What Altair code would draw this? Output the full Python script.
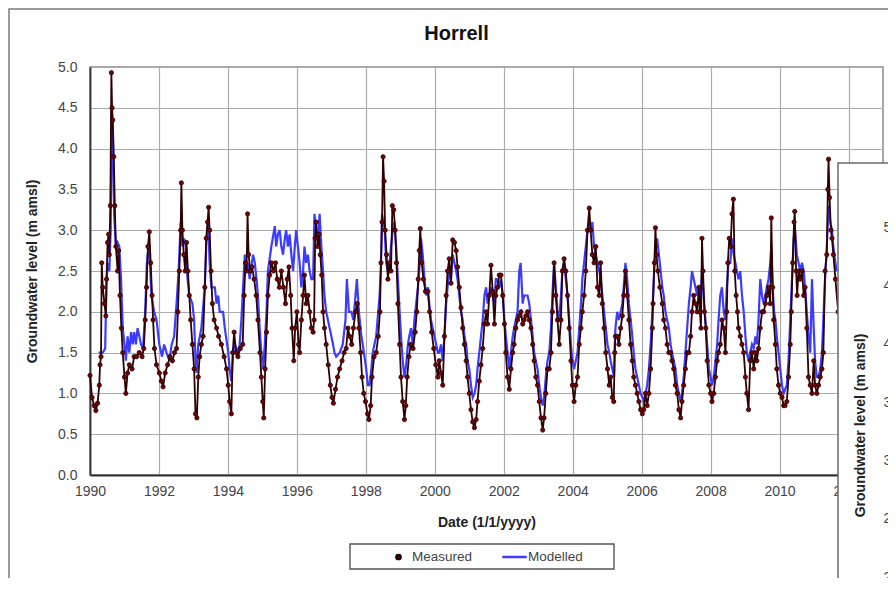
import altair as alt
import pandas as pd

FONT = "Liberation Sans"

series_names = ["Measured", "Modelled"]
x_ticks = [1990, 1992, 1994, 1996, 1998, 2000, 2002, 2004, 2006, 2008, 2010, 2012]
y_ticks = [0.0, 0.5, 1.0, 1.5, 2.0, 2.5, 3.0, 3.5, 4.0, 4.5, 5.0]
inset_ticks = [2.0, 2.5, 3.0, 3.5, 4.0, 4.5, 5.0]

# (decimal year, groundwater level m amsl)
measured = [
    (1990.00, 1.22), (1990.06, 0.95), (1990.12, 0.85), (1990.17, 0.79), (1990.22, 0.88), (1990.27, 1.10),
    (1990.29, 1.35), (1990.32, 1.45), (1990.34, 2.60), (1990.37, 2.30), (1990.42, 2.10), (1990.46, 1.95),
    (1990.48, 2.40), (1990.51, 2.85), (1990.54, 2.95), (1990.56, 2.70), (1990.59, 3.30), (1990.62, 4.93),
    (1990.64, 4.50), (1990.66, 4.35), (1990.69, 3.90), (1990.72, 3.30), (1990.75, 2.80), (1990.80, 2.50),
    (1990.83, 2.75), (1990.87, 2.20), (1990.91, 1.80), (1990.95, 1.50), (1991.00, 1.20), (1991.04, 1.00),
    (1991.09, 1.25), (1991.14, 1.35), (1991.22, 1.30), (1991.28, 1.45), (1991.35, 1.45), (1991.43, 1.50),
    (1991.51, 1.45), (1991.56, 1.55), (1991.60, 1.90), (1991.64, 2.30), (1991.68, 2.80), (1991.72, 2.98),
    (1991.76, 2.60), (1991.80, 2.20), (1991.83, 1.90), (1991.87, 1.55), (1991.93, 1.35), (1992.01, 1.25),
    (1992.07, 1.15), (1992.12, 1.08), (1992.18, 1.25), (1992.25, 1.35), (1992.32, 1.45), (1992.39, 1.40),
    (1992.45, 1.50), (1992.51, 1.55), (1992.55, 2.00), (1992.59, 2.50), (1992.63, 3.00), (1992.65, 3.58),
    (1992.68, 3.00), (1992.72, 2.70), (1992.76, 2.50), (1992.80, 2.85), (1992.84, 2.50), (1992.88, 2.20),
    (1992.92, 1.90), (1992.97, 1.60), (1993.02, 1.30), (1993.06, 0.75), (1993.10, 0.70), (1993.14, 1.20),
    (1993.18, 1.45), (1993.23, 1.60), (1993.28, 1.70), (1993.33, 2.30), (1993.37, 2.90), (1993.41, 3.10),
    (1993.44, 3.28), (1993.47, 3.00), (1993.51, 2.50), (1993.55, 2.10), (1993.60, 1.90), (1993.67, 1.80),
    (1993.73, 1.70), (1993.81, 1.60), (1993.89, 1.45), (1993.96, 1.30), (1994.01, 1.10), (1994.05, 0.90),
    (1994.10, 0.75), (1994.14, 1.50), (1994.18, 1.75), (1994.24, 1.50), (1994.29, 1.45), (1994.36, 1.55),
    (1994.43, 1.60), (1994.47, 2.20), (1994.51, 2.60), (1994.54, 2.50), (1994.57, 3.20), (1994.60, 2.70),
    (1994.65, 2.50), (1994.70, 2.55), (1994.76, 2.40), (1994.82, 2.20), (1994.87, 1.90), (1994.93, 1.50),
    (1994.97, 1.20), (1995.01, 0.90), (1995.04, 0.70), (1995.08, 1.30), (1995.12, 1.75), (1995.16, 2.20),
    (1995.21, 2.45), (1995.26, 2.60), (1995.32, 2.50), (1995.38, 2.60), (1995.43, 2.40), (1995.49, 2.30),
    (1995.55, 2.50), (1995.61, 2.30), (1995.67, 2.10), (1995.72, 2.40), (1995.77, 2.55), (1995.82, 2.20),
    (1995.86, 1.80), (1995.91, 1.40), (1995.95, 1.80), (1996.00, 2.00), (1996.05, 1.60), (1996.08, 1.50),
    (1996.13, 1.90), (1996.18, 2.20), (1996.22, 2.45), (1996.27, 2.10), (1996.32, 2.20), (1996.37, 2.00),
    (1996.42, 1.80), (1996.47, 1.75), (1996.50, 1.90), (1996.53, 2.90), (1996.56, 3.10), (1996.60, 2.80),
    (1996.64, 2.95), (1996.68, 2.70), (1996.72, 2.45), (1996.76, 2.00), (1996.80, 1.80), (1996.85, 1.60),
    (1996.91, 1.35), (1996.97, 1.10), (1997.02, 0.95), (1997.06, 0.88), (1997.12, 1.05), (1997.18, 1.20),
    (1997.24, 1.30), (1997.31, 1.40), (1997.37, 1.50), (1997.43, 1.55), (1997.48, 1.80), (1997.53, 1.70),
    (1997.59, 1.60), (1997.64, 1.80), (1997.70, 2.00), (1997.75, 2.10), (1997.80, 1.80), (1997.85, 1.50),
    (1997.89, 1.20), (1997.94, 1.00), (1997.99, 0.90), (1998.05, 0.75), (1998.09, 0.68), (1998.14, 0.85),
    (1998.18, 1.20), (1998.24, 1.45), (1998.30, 1.50), (1998.36, 1.70), (1998.41, 2.00), (1998.44, 2.60),
    (1998.47, 3.10), (1998.50, 3.90), (1998.53, 3.60), (1998.56, 3.00), (1998.60, 2.70), (1998.64, 2.40),
    (1998.69, 2.60), (1998.73, 2.50), (1998.77, 3.30), (1998.81, 3.25), (1998.85, 3.00), (1998.89, 2.60),
    (1998.93, 2.10), (1998.98, 1.60), (1999.02, 1.20), (1999.07, 0.90), (1999.12, 0.68), (1999.16, 0.85),
    (1999.20, 1.20), (1999.25, 1.45), (1999.30, 1.60), (1999.37, 1.55), (1999.43, 1.75), (1999.48, 2.00),
    (1999.52, 2.40), (1999.55, 2.75), (1999.58, 3.02), (1999.62, 2.60), (1999.67, 2.40), (1999.73, 2.25),
    (1999.80, 2.25), (1999.85, 2.00), (1999.91, 1.75), (1999.97, 1.55), (2000.03, 1.35), (2000.09, 1.20),
    (2000.13, 1.40), (2000.18, 1.25), (2000.23, 1.10), (2000.28, 1.70), (2000.33, 2.20), (2000.37, 2.50),
    (2000.42, 2.65), (2000.47, 2.35), (2000.52, 2.88), (2000.57, 2.85), (2000.62, 2.75), (2000.66, 2.55),
    (2000.71, 2.30), (2000.76, 2.05), (2000.81, 1.80), (2000.86, 1.60), (2000.91, 1.40), (2000.95, 1.20),
    (2001.00, 1.00), (2001.05, 0.80), (2001.10, 0.65), (2001.15, 0.58), (2001.20, 0.68), (2001.24, 0.90),
    (2001.29, 1.15), (2001.34, 1.35), (2001.39, 1.55), (2001.44, 1.85), (2001.49, 2.00), (2001.53, 1.85),
    (2001.58, 2.20), (2001.63, 2.57), (2001.68, 2.25), (2001.73, 1.85), (2001.77, 2.20), (2001.82, 2.30),
    (2001.87, 2.45), (2001.92, 2.45), (2001.97, 2.20), (2002.02, 1.85), (2002.06, 1.50), (2002.11, 1.20),
    (2002.16, 1.05), (2002.21, 1.30), (2002.26, 1.50), (2002.30, 1.60), (2002.35, 1.80), (2002.40, 1.90),
    (2002.45, 1.95), (2002.50, 2.00), (2002.55, 1.85), (2002.59, 1.90), (2002.64, 1.95), (2002.69, 2.00),
    (2002.74, 1.90), (2002.79, 1.80), (2002.84, 1.60), (2002.88, 1.40), (2002.93, 1.20), (2002.98, 1.10),
    (2003.03, 0.90), (2003.08, 0.70), (2003.13, 0.55), (2003.17, 0.70), (2003.22, 1.00), (2003.27, 1.30),
    (2003.32, 1.30), (2003.37, 1.50), (2003.41, 2.00), (2003.46, 2.60), (2003.51, 2.20), (2003.56, 1.90),
    (2003.61, 1.60), (2003.66, 1.90), (2003.70, 2.50), (2003.75, 2.65), (2003.80, 2.50), (2003.85, 2.20),
    (2003.90, 1.80), (2003.95, 1.40), (2003.99, 1.10), (2004.04, 0.90), (2004.09, 1.10), (2004.14, 1.20),
    (2004.19, 1.60), (2004.24, 1.80), (2004.28, 2.00), (2004.33, 2.20), (2004.38, 2.50), (2004.43, 3.00),
    (2004.48, 3.27), (2004.52, 3.00), (2004.57, 2.70), (2004.62, 2.60), (2004.67, 2.80), (2004.72, 2.30),
    (2004.77, 2.20), (2004.81, 2.60), (2004.86, 2.10), (2004.91, 1.80), (2004.96, 1.50), (2005.01, 1.30),
    (2005.06, 1.10), (2005.10, 1.20), (2005.15, 0.95), (2005.19, 0.90), (2005.22, 1.50), (2005.24, 1.70),
    (2005.29, 1.70), (2005.34, 1.60), (2005.39, 1.80), (2005.44, 1.95), (2005.48, 2.20), (2005.53, 2.50),
    (2005.58, 2.20), (2005.63, 1.90), (2005.68, 1.60), (2005.73, 1.40), (2005.77, 1.20), (2005.82, 1.10),
    (2005.87, 1.00), (2005.92, 0.90), (2005.97, 0.80), (2006.02, 0.75), (2006.06, 0.80), (2006.11, 1.00),
    (2006.16, 0.85), (2006.21, 1.00), (2006.26, 1.30), (2006.31, 1.80), (2006.33, 2.10), (2006.37, 2.60),
    (2006.40, 3.03), (2006.43, 2.70), (2006.47, 2.50), (2006.53, 2.30), (2006.60, 2.10), (2006.64, 1.90),
    (2006.69, 1.80), (2006.74, 1.60), (2006.79, 1.50), (2006.84, 1.50), (2006.88, 1.40), (2006.93, 1.30),
    (2006.98, 1.10), (2007.03, 1.00), (2007.08, 0.80), (2007.13, 0.70), (2007.17, 0.90), (2007.22, 1.10),
    (2007.27, 1.30), (2007.32, 1.50), (2007.37, 1.50), (2007.42, 1.70), (2007.46, 2.00), (2007.51, 2.20),
    (2007.56, 2.10), (2007.61, 2.00), (2007.66, 2.30), (2007.69, 2.00), (2007.72, 1.80), (2007.75, 2.90),
    (2007.78, 2.50), (2007.82, 2.00), (2007.86, 1.80), (2007.90, 1.40), (2007.95, 1.10), (2008.00, 1.00),
    (2008.04, 0.90), (2008.09, 1.00), (2008.14, 1.20), (2008.19, 1.40), (2008.23, 1.50), (2008.28, 1.60),
    (2008.33, 1.90), (2008.38, 1.80), (2008.43, 1.50), (2008.47, 2.00), (2008.50, 2.60), (2008.54, 2.90),
    (2008.58, 2.80), (2008.62, 3.20), (2008.66, 3.38), (2008.70, 2.50), (2008.74, 2.20), (2008.78, 2.00),
    (2008.81, 1.80), (2008.86, 1.70), (2008.91, 1.60), (2008.96, 1.50), (2009.01, 1.20), (2009.05, 1.00),
    (2009.10, 0.80), (2009.15, 1.40), (2009.20, 1.50), (2009.25, 1.30), (2009.30, 1.50), (2009.34, 1.40),
    (2009.39, 1.55), (2009.44, 1.80), (2009.49, 2.00), (2009.54, 2.00), (2009.59, 2.10), (2009.63, 2.20),
    (2009.68, 2.30), (2009.73, 2.10), (2009.76, 3.15), (2009.80, 2.30), (2009.83, 1.90), (2009.88, 1.60),
    (2009.92, 1.30), (2009.97, 1.10), (2010.02, 1.00), (2010.07, 0.95), (2010.12, 0.85), (2010.16, 0.85),
    (2010.21, 0.90), (2010.26, 1.20), (2010.31, 1.60), (2010.34, 2.00), (2010.38, 2.60), (2010.42, 3.10),
    (2010.44, 3.23), (2010.48, 2.50), (2010.51, 2.20), (2010.55, 2.50), (2010.60, 2.40), (2010.65, 2.50),
    (2010.70, 2.20), (2010.74, 2.30), (2010.79, 1.80), (2010.84, 1.20), (2010.89, 1.10), (2010.94, 1.00),
    (2010.99, 1.40), (2011.03, 1.10), (2011.08, 1.00), (2011.13, 1.10), (2011.18, 1.20), (2011.23, 1.30),
    (2011.27, 1.50), (2011.32, 2.50), (2011.37, 2.70), (2011.40, 3.50), (2011.42, 3.87), (2011.45, 3.40),
    (2011.49, 3.00), (2011.52, 2.90), (2011.56, 2.70), (2011.62, 2.40), (2011.70, 2.00),
]

modelled = [
    (1990.25, 1.50), (1990.37, 1.50), (1990.44, 1.55), (1990.48, 2.40), (1990.52, 2.60), (1990.56, 2.50),
    (1990.60, 3.00), (1990.63, 4.45), (1990.66, 4.20), (1990.70, 3.20), (1990.75, 2.80), (1990.80, 2.85),
    (1990.85, 2.80), (1990.90, 2.40), (1990.95, 1.80), (1991.00, 1.60), (1991.04, 1.40), (1991.09, 1.70),
    (1991.14, 1.50), (1991.19, 1.75), (1991.24, 1.60), (1991.28, 1.75), (1991.33, 1.60), (1991.38, 1.80),
    (1991.48, 1.60), (1991.54, 1.55), (1991.60, 2.00), (1991.65, 2.60), (1991.70, 2.80), (1991.74, 2.60),
    (1991.78, 2.20), (1991.86, 2.00), (1991.93, 1.90), (1992.01, 1.60), (1992.09, 1.45), (1992.15, 1.60),
    (1992.22, 1.50), (1992.30, 1.40), (1992.37, 1.60), (1992.44, 1.70), (1992.51, 2.10), (1992.57, 2.50),
    (1992.63, 3.10), (1992.68, 2.80), (1992.73, 2.90), (1992.78, 2.80), (1992.83, 2.40), (1992.88, 2.20),
    (1992.97, 2.10), (1993.02, 1.90), (1993.06, 1.40), (1993.09, 1.25), (1993.14, 1.60), (1993.23, 1.80),
    (1993.33, 2.30), (1993.38, 2.90), (1993.43, 3.10), (1993.47, 2.60), (1993.52, 2.30), (1993.62, 2.30),
    (1993.67, 2.10), (1993.72, 2.20), (1993.76, 2.00), (1993.86, 2.00), (1993.91, 1.80), (1994.01, 1.50),
    (1994.05, 1.30), (1994.10, 1.15), (1994.15, 1.50), (1994.20, 1.60), (1994.28, 1.50), (1994.34, 1.60),
    (1994.39, 1.90), (1994.44, 2.30), (1994.49, 2.70), (1994.54, 2.50), (1994.58, 2.60), (1994.63, 2.40),
    (1994.73, 2.70), (1994.78, 2.60), (1994.83, 2.40), (1994.87, 2.20), (1994.92, 1.80), (1994.97, 1.50),
    (1995.02, 1.30), (1995.07, 1.60), (1995.12, 2.00), (1995.16, 2.50), (1995.26, 2.80), (1995.36, 3.05),
    (1995.40, 2.80), (1995.45, 2.95), (1995.50, 3.00), (1995.55, 2.80), (1995.60, 2.70), (1995.65, 2.90),
    (1995.69, 3.00), (1995.74, 2.80), (1995.79, 2.95), (1995.84, 2.70), (1995.89, 2.50), (1995.94, 2.80),
    (1995.98, 3.00), (1996.03, 2.80), (1996.08, 2.60), (1996.13, 2.30), (1996.18, 2.50), (1996.22, 2.80),
    (1996.27, 2.60), (1996.32, 2.70), (1996.37, 2.50), (1996.42, 2.40), (1996.47, 2.40), (1996.51, 3.20),
    (1996.56, 3.00), (1996.61, 2.90), (1996.66, 3.20), (1996.71, 2.80), (1996.76, 2.50), (1996.80, 2.20),
    (1996.85, 2.00), (1996.90, 1.90), (1996.95, 1.80), (1997.00, 1.70), (1997.05, 1.60), (1997.09, 1.50),
    (1997.14, 1.45), (1997.24, 1.50), (1997.33, 1.60), (1997.41, 1.90), (1997.45, 2.40), (1997.51, 2.00),
    (1997.58, 2.00), (1997.64, 1.90), (1997.70, 2.20), (1997.74, 2.40), (1997.80, 2.00), (1997.87, 1.70),
    (1997.91, 1.60), (1997.96, 1.45), (1998.01, 1.30), (1998.06, 1.10), (1998.11, 1.10), (1998.16, 1.30),
    (1998.20, 1.50), (1998.30, 1.70), (1998.40, 2.20), (1998.44, 2.60), (1998.47, 3.20), (1998.51, 3.10),
    (1998.55, 3.00), (1998.59, 2.60), (1998.64, 2.50), (1998.69, 2.60), (1998.73, 2.80), (1998.78, 3.00),
    (1998.83, 3.10), (1998.88, 2.80), (1998.93, 2.40), (1998.98, 2.00), (1999.02, 1.70), (1999.07, 1.40),
    (1999.12, 1.20), (1999.17, 1.35), (1999.22, 1.60), (1999.26, 1.70), (1999.31, 1.80), (1999.36, 1.60),
    (1999.41, 1.90), (1999.46, 2.10), (1999.51, 2.30), (1999.55, 2.50), (1999.60, 2.90), (1999.65, 2.70),
    (1999.70, 2.40), (1999.75, 2.20), (1999.80, 2.30), (1999.84, 2.10), (1999.89, 1.90), (1999.94, 1.80),
    (1999.99, 1.70), (2000.04, 1.60), (2000.09, 1.50), (2000.13, 1.50), (2000.18, 1.60), (2000.23, 1.40),
    (2000.28, 1.70), (2000.33, 2.10), (2000.37, 2.30), (2000.42, 2.50), (2000.47, 2.40), (2000.52, 2.70),
    (2000.57, 2.60), (2000.62, 2.50), (2000.66, 2.40), (2000.71, 2.20), (2000.76, 2.00), (2000.81, 1.90),
    (2000.86, 1.70), (2000.91, 1.60), (2000.95, 1.40), (2001.00, 1.30), (2001.05, 1.10), (2001.10, 0.95),
    (2001.15, 1.00), (2001.20, 1.10), (2001.24, 1.30), (2001.29, 1.50), (2001.34, 1.70), (2001.39, 1.90),
    (2001.44, 2.20), (2001.49, 2.30), (2001.53, 2.10), (2001.58, 2.20), (2001.63, 2.30), (2001.68, 2.20),
    (2001.73, 2.10), (2001.77, 2.40), (2001.82, 2.40), (2001.87, 2.30), (2001.92, 2.40), (2001.97, 2.20),
    (2002.02, 1.90), (2002.06, 1.70), (2002.11, 1.50), (2002.16, 1.30), (2002.21, 1.50), (2002.26, 1.70),
    (2002.30, 1.80), (2002.35, 1.90), (2002.40, 2.00), (2002.45, 2.50), (2002.49, 2.60), (2002.55, 2.10),
    (2002.59, 2.20), (2002.69, 2.20), (2002.74, 2.10), (2002.79, 1.90), (2002.84, 1.70), (2002.88, 1.50),
    (2002.93, 1.40), (2002.98, 1.30), (2003.03, 1.10), (2003.08, 0.95), (2003.13, 0.85), (2003.17, 0.95),
    (2003.22, 1.20), (2003.27, 1.40), (2003.32, 1.50), (2003.37, 1.80), (2003.41, 2.20), (2003.46, 2.60),
    (2003.51, 2.30), (2003.56, 2.00), (2003.61, 1.90), (2003.66, 2.20), (2003.70, 2.50), (2003.75, 2.60),
    (2003.80, 2.40), (2003.85, 2.20), (2003.90, 1.90), (2003.95, 1.60), (2003.99, 1.40), (2004.04, 1.30),
    (2004.09, 1.40), (2004.14, 1.50), (2004.19, 1.80), (2004.24, 2.10), (2004.28, 2.40), (2004.33, 2.60),
    (2004.38, 2.80), (2004.43, 3.00), (2004.48, 3.10), (2004.52, 3.00), (2004.57, 3.10), (2004.62, 2.80),
    (2004.67, 2.70), (2004.72, 2.60), (2004.77, 2.50), (2004.81, 2.40), (2004.86, 2.20), (2004.91, 2.00),
    (2004.96, 1.80), (2005.01, 1.60), (2005.06, 1.50), (2005.10, 1.40), (2005.15, 1.30), (2005.20, 1.20),
    (2005.22, 1.60), (2005.24, 1.80), (2005.29, 2.00), (2005.34, 1.90), (2005.39, 2.00), (2005.44, 2.10),
    (2005.48, 2.30), (2005.53, 2.60), (2005.58, 2.40), (2005.63, 2.10), (2005.68, 1.90), (2005.73, 1.70),
    (2005.77, 1.50), (2005.82, 1.30), (2005.87, 1.20), (2005.92, 1.10), (2005.97, 1.00), (2006.02, 0.95),
    (2006.06, 0.90), (2006.11, 1.00), (2006.16, 1.10), (2006.21, 1.30), (2006.26, 1.60), (2006.31, 2.00),
    (2006.35, 2.40), (2006.40, 2.80), (2006.45, 2.90), (2006.50, 2.70), (2006.55, 2.50), (2006.60, 2.30),
    (2006.64, 2.20), (2006.69, 2.00), (2006.74, 1.90), (2006.79, 1.80), (2006.84, 1.60), (2006.88, 1.50),
    (2006.93, 1.40), (2006.98, 1.30), (2007.03, 1.10), (2007.08, 1.00), (2007.13, 0.90), (2007.17, 1.00),
    (2007.22, 1.20), (2007.27, 1.50), (2007.32, 1.80), (2007.37, 2.10), (2007.42, 2.30), (2007.46, 2.50),
    (2007.51, 2.40), (2007.56, 2.30), (2007.61, 2.20), (2007.66, 2.30), (2007.70, 2.10), (2007.75, 2.50),
    (2007.80, 2.20), (2007.85, 1.90), (2007.90, 1.60), (2007.95, 1.30), (2008.00, 1.20), (2008.04, 1.10),
    (2008.09, 1.20), (2008.14, 1.40), (2008.19, 1.60), (2008.23, 1.90), (2008.28, 2.20), (2008.33, 2.30),
    (2008.38, 2.00), (2008.43, 1.90), (2008.47, 2.30), (2008.52, 2.60), (2008.57, 2.60), (2008.62, 2.90),
    (2008.67, 2.70), (2008.72, 2.60), (2008.76, 2.50), (2008.81, 2.40), (2008.86, 2.50), (2008.91, 2.20),
    (2008.96, 2.00), (2009.01, 1.70), (2009.05, 1.50), (2009.10, 1.40), (2009.15, 1.50), (2009.20, 1.60),
    (2009.25, 1.55), (2009.30, 1.70), (2009.34, 1.60), (2009.39, 1.90), (2009.44, 2.40), (2009.49, 2.20),
    (2009.54, 2.10), (2009.59, 2.20), (2009.63, 2.30), (2009.68, 2.40), (2009.73, 2.60), (2009.76, 2.80),
    (2009.80, 2.30), (2009.84, 2.00), (2009.88, 1.90), (2009.92, 1.70), (2009.97, 1.50), (2010.02, 1.30),
    (2010.07, 1.10), (2010.12, 1.00), (2010.16, 1.05), (2010.21, 1.10), (2010.26, 1.40), (2010.31, 1.90),
    (2010.36, 2.40), (2010.41, 2.90), (2010.45, 3.00), (2010.50, 2.70), (2010.55, 2.60), (2010.60, 2.50),
    (2010.65, 2.60), (2010.70, 2.50), (2010.74, 2.30), (2010.79, 2.00), (2010.84, 1.70), (2010.89, 1.50),
    (2010.94, 2.40), (2010.99, 1.80), (2011.03, 1.40), (2011.08, 1.20), (2011.13, 1.20), (2011.18, 1.30),
    (2011.23, 1.50), (2011.27, 1.90), (2011.32, 2.40), (2011.37, 2.80), (2011.42, 3.30), (2011.47, 3.10),
    (2011.52, 3.00), (2011.56, 2.80), (2011.65, 2.50),
]

meas_df = pd.DataFrame(measured, columns=["year", "level"])
meas_df["series"] = series_names[0]
mod_df = pd.DataFrame(modelled, columns=["year", "level"])
mod_df["series"] = series_names[1]
inset_df = pd.DataFrame({"level": inset_ticks})
one = pd.DataFrame({"k": [0]})

W, H = 793, 408

x_enc = alt.X(
    "year:Q",
    scale=alt.Scale(domain=[1990, 2013], nice=False, zero=False),
    axis=alt.Axis(values=x_ticks, format="d", title="Date (1/1/yyyy)", labelPadding=9,
                  labelFlush=False, titleY=47, titleBaseline="middle"),
)
y_enc = alt.Y(
    "level:Q",
    scale=alt.Scale(domain=[0, 5], nice=False, zero=False),
    axis=alt.Axis(values=y_ticks, format=".1f", title="Groundwater level (m amsl)", labelPadding=13,
                  labelFlush=False, titleX=-58, titleY=204, titleAngle=270, titleBaseline="middle"),
)

legend = alt.Legend(
    title=None, orient="none", legendX=295, legendY=482, direction="horizontal", columns=2,
    labelFont=FONT, labelFontSize=13.5, labelColor="#444444", columnPadding=28, clipHeight=16,
    labelOffset=0, symbolStrokeWidth=2.5, padding=0,
)

mod_line = alt.Chart(mod_df).mark_line(color="#3c3cff", strokeWidth=2.2).encode(x=x_enc, y=y_enc)
meas_line = alt.Chart(meas_df).mark_line(color="#2e0000", strokeWidth=1.8).encode(x=x_enc, y=y_enc)
meas_pts = alt.Chart(meas_df).mark_point(filled=True, strokeWidth=0.8, opacity=1).encode(
    x=x_enc,
    y=y_enc,
    color=alt.Color("series:N", scale=alt.Scale(domain=series_names, range=["#7d0000", "#3c3cff"]), legend=legend),
    stroke=alt.Stroke("series:N", scale=alt.Scale(domain=series_names, range=["#1a0000", "#3c3cff"]), legend=legend),
    shape=alt.Shape("series:N", scale=alt.Scale(domain=series_names, range=["circle", "stroke"]), legend=legend),
    size=alt.Size("series:N", scale=alt.Scale(domain=series_names, range=[18, 600]), legend=legend),
)
main = alt.layer(mod_line, meas_line, meas_pts)

outer_frame = alt.Chart(one).mark_rect(fillOpacity=0, stroke="#7a7a7a", strokeWidth=1.5).encode(
    x=alt.value(-81), x2=alt.value(900), y=alt.value(-58), y2=alt.value(530)
)
legend_box = alt.Chart(one).mark_rect(fillOpacity=0, stroke="#555555", strokeWidth=1.4).encode(
    x=alt.value(260), x2=alt.value(524), y=alt.value(477), y2=alt.value(502)
)
inset_box = alt.Chart(one).mark_rect(fill="white", stroke="#6a6a6a", strokeWidth=1.5).encode(
    x=alt.value(748), x2=alt.value(900), y=alt.value(96), y2=alt.value(600)
)
inset_axis = alt.Chart(inset_df).mark_point(opacity=0).encode(
    x=alt.value(780),
    y=alt.Y(
        "level:Q",
        scale=alt.Scale(domain=[2.0, 5.0], range=[510, 160], nice=False, zero=False),
        axis=alt.Axis(orient="right", values=inset_ticks, format=".1f", grid=False, domain=False,
                      ticks=False, labelPadding=0, labelFlush=False, zindex=1,
                      title="Groundwater level (m amsl)",
                      titleX=-23, titleY=358, titleAngle=270, titleBaseline="middle"),
    ),
)

chart = (
    alt.layer(outer_frame, main, legend_box, inset_box, inset_axis)
    .resolve_scale(y="independent")
    .properties(
        width=W,
        height=H,
        autosize="none",
        padding={"left": 82, "top": 59, "right": 5, "bottom": 103},
        title=alt.TitleParams(text="Horrell", font=FONT, fontSize=20, fontWeight="bold", color="#111111",
                              anchor="middle", dx=-30, dy=78.75, offset=27, baseline="alphabetic"),
    )
    .configure_view(stroke="#8a8a8a", strokeWidth=1.5)
    .configure_axis(
        labelFont=FONT, labelFontSize=14, labelColor="#444444",
        titleFont=FONT, titleFontSize=14, titleFontWeight="bold", titleColor="#222222",
        gridColor="#ababab", gridWidth=1.2, domainColor="#333333", domainWidth=1.8,
        ticks=False,
    )
)

chart.save("out.html", embed_options={"renderer": "svg", "actions": False})
